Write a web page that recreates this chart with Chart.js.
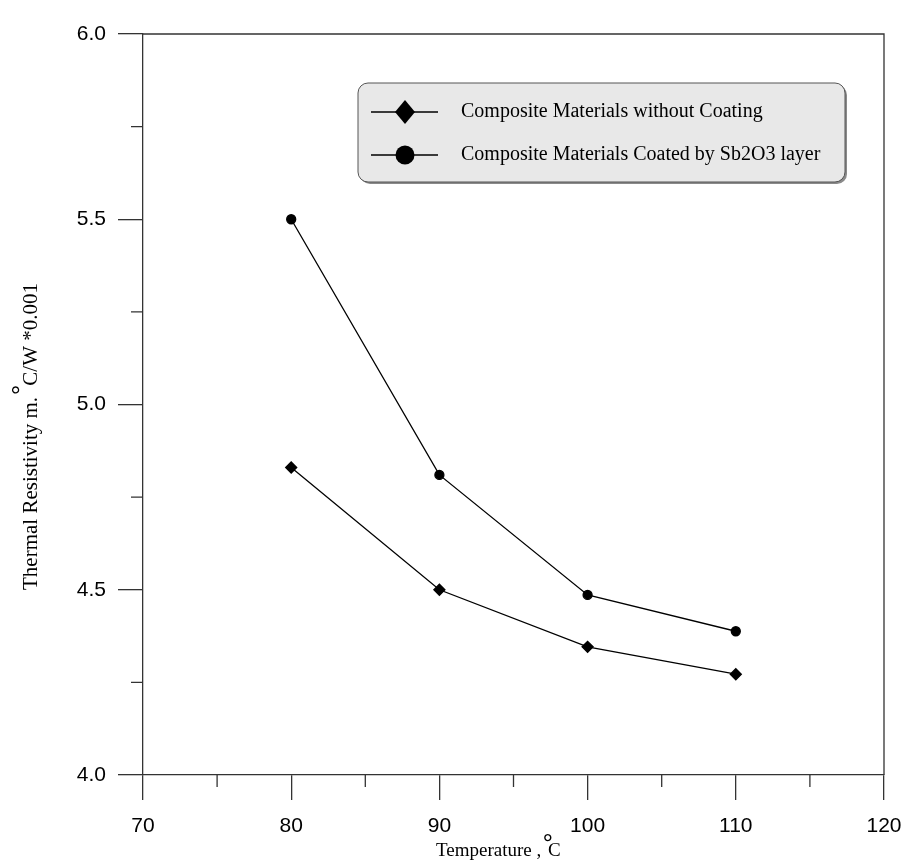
<!DOCTYPE html>
<html lang="en">
<head>
    <meta charset="UTF-8">
    <title>Thermal Resistivity</title>
    <style>
        html, body { margin: 0; padding: 0; background: #fff; }
        #grafico { display: block; }
    </style>
</head>
<body>
<canvas id="grafico" width="907" height="862"></canvas>
<script src="https://cdn.jsdelivr.net/npm/chart.js"></script>
<script type="text/javascript">
    // datos
    var temperatura = [80, 90, 100, 110];
    var sinRecubrimiento = [4.83, 4.50, 4.346, 4.272];
    var conSb2O3 = [5.50, 4.81, 4.486, 4.388];
    var etiquetas = ["Composite Materials without Coating", "Composite Materials Coated by Sb2O3 layer"];
    var tituloX = "Temperature , ";
    var tituloY = "Thermal Resistivity m. ";
    var tituloY2 = "C/W *0.001";

    var ejeColor = '#333333';

    function puntos(valores) {
        return temperatura.map(function (t, i) { return {x: t, y: valores[i]}; });
    }

    // marco, ticks menores, leyenda y titulos
    var extras = {
        id: 'extras',
        afterDraw: function (chart) {
            var ctx = chart.ctx;
            var a = chart.chartArea;
            var sx = chart.scales.x;
            var sy = chart.scales.y;
            ctx.save();
            ctx.strokeStyle = ejeColor;
            ctx.lineWidth = 1.3;
            ctx.beginPath();
            ctx.moveTo(a.left, a.top);
            ctx.lineTo(a.right, a.top);
            ctx.lineTo(a.right, a.bottom);
            ctx.stroke();

            ctx.beginPath();
            for (var v = 75; v < 120; v += 10) {
                var px = sx.getPixelForValue(v);
                ctx.moveTo(px, a.bottom);
                ctx.lineTo(px, a.bottom + 12);
            }
            for (var w = 4.25; w < 6; w += 0.5) {
                var py = sy.getPixelForValue(w);
                ctx.moveTo(a.left - 12, py);
                ctx.lineTo(a.left, py);
            }
            ctx.stroke();

            // leyenda
            var bx = 358, by = 83, bw = 487, bh = 99;
            ctx.fillStyle = '#8a8a8a';
            ctx.beginPath();
            ctx.roundRect(bx + 2, by + 2, bw, bh, 10);
            ctx.fill();
            ctx.fillStyle = '#e8e8e8';
            ctx.strokeStyle = '#555';
            ctx.lineWidth = 1;
            ctx.beginPath();
            ctx.roundRect(bx, by, bw, bh, 10);
            ctx.fill();
            ctx.stroke();

            var filas = [112, 155];
            ctx.fillStyle = '#000';
            ctx.strokeStyle = '#000';
            ctx.lineWidth = 1.3;
            for (var i = 0; i < 2; i++) {
                var y = filas[i];
                ctx.beginPath();
                ctx.moveTo(371, y);
                ctx.lineTo(438, y);
                ctx.stroke();
                ctx.beginPath();
                if (i === 0) {
                    ctx.moveTo(405, y - 12);
                    ctx.lineTo(415, y);
                    ctx.lineTo(405, y + 12);
                    ctx.lineTo(395, y);
                    ctx.closePath();
                } else {
                    ctx.arc(405, y, 9.5, 0, Math.PI * 2);
                }
                ctx.fill();
                ctx.font = '20px "Liberation Serif"';
                ctx.textBaseline = 'middle';
                ctx.textAlign = 'left';
                ctx.fillText(etiquetas[i], 461, y);
            }

            // titulo eje x
            ctx.textBaseline = 'alphabetic';
            ctx.font = '19px "Liberation Serif"';
            var w1 = ctx.measureText(tituloX).width;
            var x0 = 436;
            ctx.fillText(tituloX, x0, 856);
            ctx.font = 'bold 24px "Liberation Serif"';
            ctx.fillText('\u00b0', x0 + w1 - 3, 850);
            ctx.font = '19px "Liberation Serif"';
            ctx.fillText('C', x0 + w1 + 2, 856);

            // titulo eje y (abajo en y=590)
            ctx.translate(37, 590);
            ctx.rotate(-Math.PI / 2);
            ctx.font = '21px "Liberation Serif"';
            var t1 = ctx.measureText(tituloY).width;
            ctx.fillText(tituloY, 0, 0);
            ctx.font = 'bold 24px "Liberation Serif"';
            ctx.fillText('\u00b0', t1 - 3, -9);
            ctx.font = '21px "Liberation Serif"';
            ctx.fillText(tituloY2, t1 + 6, 0);
            ctx.restore();
        }
    };

    var ctxGrafico = document.getElementById('grafico');
    var grafico = new Chart(ctxGrafico, {
        type: 'line',
        data: {
            datasets: [{
                label: etiquetas[0],
                data: puntos(sinRecubrimiento),
                borderColor: '#000',
                backgroundColor: '#000',
                borderWidth: 1.3,
                pointStyle: 'rectRot',
                pointRadius: 5.5,
                tension: 0
            }, {
                label: etiquetas[1],
                data: puntos(conSb2O3),
                borderColor: '#000',
                backgroundColor: '#000',
                borderWidth: 1.3,
                pointStyle: 'circle',
                pointRadius: 4.5,
                tension: 0
            }]
        },
        options: {
            responsive: false,
            animation: false,
            layout: { padding: { top: 34, right: 23, left: 0, bottom: 0 } },
            plugins: {
                legend: { display: false },
                tooltip: { enabled: false }
            },
            scales: {
                x: {
                    type: 'linear',
                    min: 70,
                    max: 120,
                    afterFit: function (scale) {
                        scale.height = 87;
                        scale.paddingLeft = 0;
                        scale.paddingRight = 0;
                    },
                    ticks: {
                        stepSize: 10,
                        color: '#000',
                        padding: 14,
                        maxRotation: 0,
                        font: { family: 'Liberation Sans', size: 21 }
                    },
                    grid: {
                        drawOnChartArea: false,
                        tickLength: 25,
                        color: ejeColor,
                        lineWidth: 1.3
                    },
                    border: { display: true, color: ejeColor, width: 1.3 }
                },
                y: {
                    min: 4,
                    max: 6,
                    afterFit: function (scale) {
                        scale.width = 143;
                        scale.paddingTop = 0;
                        scale.paddingBottom = 0;
                    },
                    ticks: {
                        stepSize: 0.5,
                        color: '#000',
                        padding: 12,
                        font: { family: 'Liberation Sans', size: 21 },
                        callback: function (v) { return v.toFixed(1); }
                    },
                    grid: {
                        drawOnChartArea: false,
                        tickLength: 25,
                        color: ejeColor,
                        lineWidth: 1.3
                    },
                    border: { display: true, color: ejeColor, width: 1.3 }
                }
            }
        },
        plugins: [extras]
    });
</script>
</body>
</html>
